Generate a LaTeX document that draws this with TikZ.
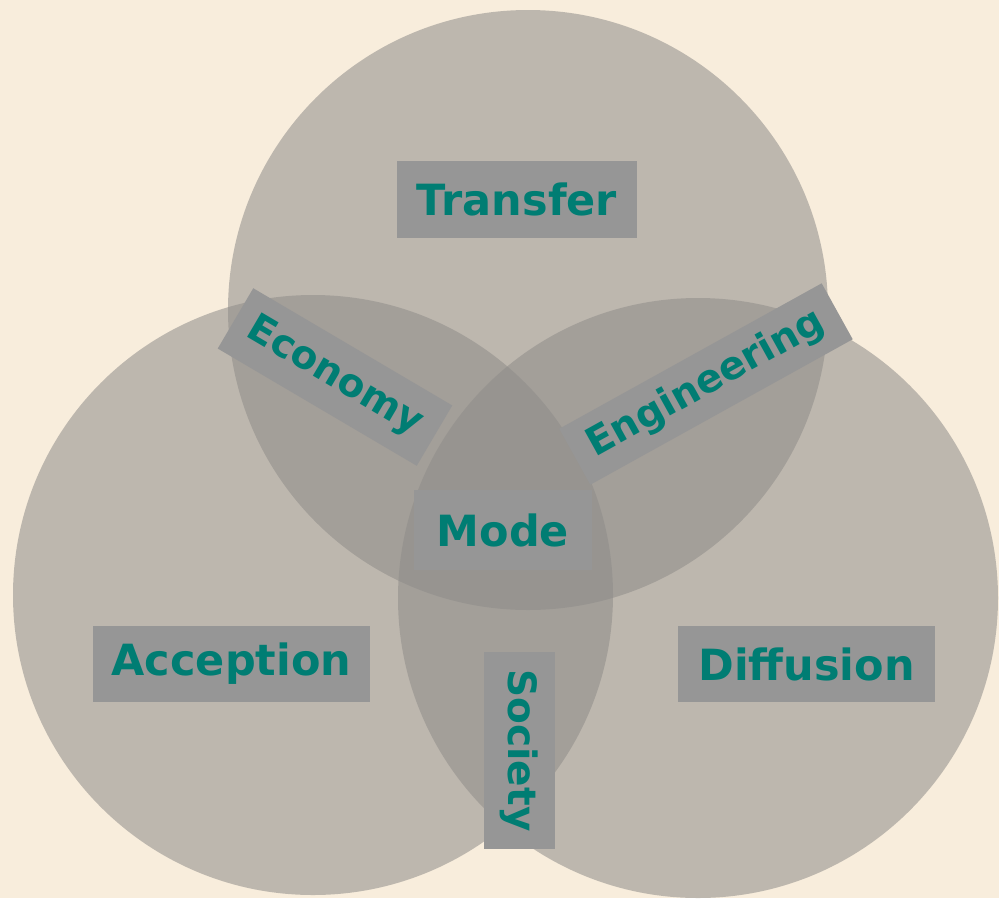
\documentclass[tikz,border=0pt]{standalone}
\usepackage{fontspec}
\setmainfont{DejaVu Sans}
\definecolor{bgcream}{RGB}{248,237,220}
\definecolor{circgray}{RGB}{142,140,137}
\definecolor{boxgray}{RGB}{150,150,150}
\definecolor{labteal}{RGB}{0,125,115}
\begin{document}
\begin{tikzpicture}[x=1pt,y=-1pt,
  venn/.style={fill=circgray, fill opacity=0.55, draw=none},
  lab/.style={fill=boxgray, text=labteal, inner sep=0pt, anchor=center},
  bigtext/.style={font=\bfseries\fontsize{43}{43}\selectfont},
  smalltext/.style={font=\bfseries\fontsize{39}{39}\selectfont}]
\useasboundingbox (0,0) rectangle (999,898);
\fill[bgcream] (0,0) rectangle (999,898);
% three circles
\fill[venn] (528,310) circle[radius=300pt];
\fill[venn] (313,595) circle[radius=300pt];
\fill[venn] (698,598) circle[radius=300pt];
% labels
\node[lab,bigtext,minimum width=240pt,minimum height=77pt] (transfer) at (517,199.5) {Transfer};
\node[lab,bigtext,minimum width=178pt,minimum height=80pt] (mode) at (503,530) {Mode};
\node[lab,bigtext,minimum width=277pt,minimum height=76pt] (accept) at (231.5,664) {Acception};
\node[lab,bigtext,minimum width=257pt,minimum height=76pt] (diffuse) at (806.5,664) {Diffusion};
\node[lab,smalltext,minimum width=197pt,minimum height=71pt,rotate=-90] (society) at (519.5,750.5) {Society};
\node[lab,smalltext,minimum width=231pt,minimum height=70pt,rotate=-30.5] (economy) at (335,377) {Economy};
\node[lab,smalltext,minimum width=300pt,minimum height=64pt,rotate=29] (engineering) at (706,384) {Engineering};
\end{tikzpicture}
\end{document}
